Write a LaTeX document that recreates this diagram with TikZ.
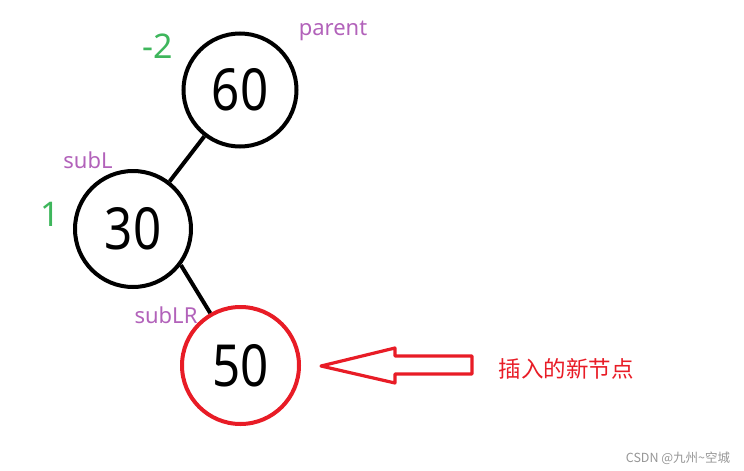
\documentclass[tikz,border=0pt]{standalone}
\usepackage{fontspec}
\setmainfont{Noto Sans}
\newfontfamily\cjkfont{Noto Sans CJK SC}
\newfontfamily\digitfont[FakeStretch=0.85]{Noto Sans}
\usepackage{tikz}
\usetikzlibrary{positioning, calc}
\usepackage{xcolor}
\definecolor{balgreen}{RGB}{62,182,92}
\definecolor{ptrpurple}{RGB}{178,98,186}
\definecolor{insred}{RGB}{232,28,38}
\definecolor{markgray}{RGB}{150,150,150}

\begin{document}
\begin{tikzpicture}[
  x=1pt, y=-1pt,
  tnode/.style  = {circle, draw=black, line width=4pt, minimum size=113pt,
                   inner sep=0pt, font=\digitfont\fontsize{58}{60}\selectfont},
  newnode/.style = {tnode, draw=insred, minimum size=117pt},
  bf/.style     = {text=balgreen, inner sep=0pt, font=\fontsize{34}{36}\selectfont},
  ptr/.style    = {text=ptrpurple, inner sep=0pt, font=\fontsize{22}{24}\selectfont},
  link/.style   = {line width=4pt},
  hollow/.style = {draw=insred, line width=3.2pt, line join=round},
]
\useasboundingbox (0,0) rectangle (744,471);

% ── Tree nodes ───────────────────────────────────────────────────────────────
\node[tnode]   (n60) at (240,90)    {60};
\node[tnode, minimum size=116pt] (n30) at (133,229) {30};
\node[newnode] (n50) at (240.5,365.5) {50};

\draw[link] (n60) -- (n30);
\draw[link] (n30.-37) -- (n50.120);

% ── Balance factors and pointers ─────────────────────────────────────────────
\node[bf]  (bf60) at (158,46)  {-2};
\node[bf]  (bf30) at (50,214)  {1};
\node[ptr] (parent) at (333,31)  {parent};
\node[ptr] (subL)   at (88,160)  {subL};
\node[ptr] (subLR)  at (166,315) {subLR};

% ── Hollow arrow + note ──────────────────────────────────────────────────────
\coordinate (tip) at (321,366);
\draw[hollow] (tip) -- ++(74,-18) -- ++(0,8) -- ++(77,0) -- ++(0,18)
              -- ++(-77,0) -- ++(0,9) -- cycle;
\node[text=insred, font=\cjkfont\fontsize{22.5}{24}\selectfont] (note) at (566,369) {插入的新节点};

\node[text=markgray, font=\cjkfont\fontsize{12.5}{14}\selectfont] (mark) at (678,458) {CSDN @九州\textasciitilde 空城};

\end{tikzpicture}
\end{document}
